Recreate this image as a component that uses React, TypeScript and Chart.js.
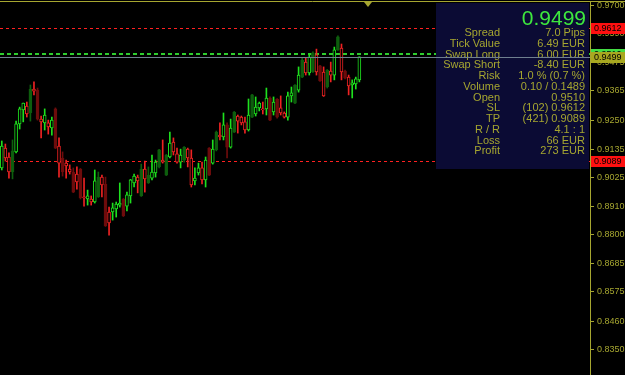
import React, { useEffect, useRef } from "react";
import { Chart, registerables } from "chart.js";

Chart.register(...registerables);

// ---------- data ----------
const SLOT_COUNT = 165; // visible bar slots across the chart width

const opens = [
  0.9062, 0.9140, 0.9105, 0.9046, 0.9125, 0.9235, 0.9290, 0.9305, 0.9278, 0.9372,
  0.9368, 0.9254, 0.9239, 0.9239, 0.9219, 0.9294, 0.9148, 0.9101, 0.9081, 0.9058,
  0.9046, 0.9038, 0.9058, 0.8948, 0.8940, 0.8940, 0.8928, 0.8948, 0.9026, 0.8999,
  0.8889, 0.8889, 0.8901, 0.8916, 0.8940, 0.8912, 0.8952, 0.9003, 0.9026, 0.8952,
  0.9058, 0.9003, 0.9022, 0.9042, 0.9066, 0.9093, 0.9034, 0.9105, 0.9164, 0.9117,
  0.9085, 0.9093, 0.9136, 0.9101, 0.9011, 0.9042, 0.9062, 0.9015, 0.9140, 0.9081,
  0.9133, 0.9191, 0.9184, 0.9231, 0.9144, 0.9203, 0.9266, 0.9262, 0.9243, 0.9211,
  0.9262, 0.9274, 0.9298, 0.9294, 0.9294, 0.9337, 0.9282, 0.9333, 0.9298, 0.9278,
  0.9262, 0.9345, 0.9317, 0.9368, 0.9419, 0.9478, 0.9435, 0.9439, 0.9506, 0.9463,
  0.9439, 0.9380, 0.9443, 0.9427, 0.9526, 0.9533, 0.9443, 0.9419, 0.9388, 0.9392,
  0.9408,
];
const highs = [
  0.9168, 0.9156, 0.9121, 0.9172, 0.9246, 0.9301, 0.9317, 0.9321, 0.9388, 0.9400,
  0.9376, 0.9266, 0.9294, 0.9250, 0.9262, 0.9298, 0.9180, 0.9125, 0.9093, 0.9074,
  0.9062, 0.9066, 0.9060, 0.9022, 0.8975, 0.8952, 0.9054, 0.9046, 0.9034, 0.9026,
  0.8908, 0.8924, 0.8928, 0.9003, 0.8942, 0.8967, 0.9017, 0.9038, 0.9034, 0.9077,
  0.9089, 0.9066, 0.9113, 0.9093, 0.9135, 0.9172, 0.9115, 0.9203, 0.9180, 0.9140,
  0.9136, 0.9146, 0.9140, 0.9133, 0.9062, 0.9081, 0.9085, 0.9105, 0.9142, 0.9172,
  0.9207, 0.9239, 0.9278, 0.9239, 0.9254, 0.9284, 0.9270, 0.9266, 0.9262, 0.9333,
  0.9351, 0.9341, 0.9321, 0.9321, 0.9376, 0.9341, 0.9341, 0.9335, 0.9345, 0.9282,
  0.9360, 0.9380, 0.9390, 0.9459, 0.9494, 0.9494, 0.9510, 0.9518, 0.9529, 0.9465,
  0.9459, 0.9449, 0.9478, 0.9537, 0.9581, 0.9549, 0.9447, 0.9427, 0.9408, 0.9419,
  0.9499,
];
const lows = [
  0.9054, 0.9089, 0.9022, 0.9019, 0.9121, 0.9215, 0.9243, 0.9262, 0.9246, 0.9349,
  0.9250, 0.9180, 0.9211, 0.9195, 0.9191, 0.9138, 0.9026, 0.9030, 0.9022, 0.9038,
  0.8965, 0.8979, 0.8940, 0.8912, 0.8916, 0.8916, 0.8924, 0.8946, 0.8948, 0.8832,
  0.8798, 0.8857, 0.8869, 0.8908, 0.8871, 0.8893, 0.8924, 0.8987, 0.8964, 0.8950,
  0.8967, 0.9001, 0.9015, 0.9026, 0.9062, 0.9081, 0.9032, 0.9101, 0.9113, 0.9081,
  0.9062, 0.9085, 0.9066, 0.8987, 0.8995, 0.9034, 0.8999, 0.8987, 0.9032, 0.9077,
  0.9129, 0.9172, 0.9172, 0.9101, 0.9140, 0.9201, 0.9199, 0.9231, 0.9199, 0.9207,
  0.9260, 0.9266, 0.9286, 0.9274, 0.9270, 0.9248, 0.9270, 0.9258, 0.9270, 0.9258,
  0.9250, 0.9321, 0.9315, 0.9360, 0.9417, 0.9427, 0.9427, 0.9437, 0.9427, 0.9402,
  0.9343, 0.9376, 0.9400, 0.9408, 0.9524, 0.9408, 0.9412, 0.9349, 0.9337, 0.9372,
  0.9400,
];
const closes = [
  0.9148, 0.9101, 0.9046, 0.9129, 0.9235, 0.9294, 0.9317, 0.9274, 0.9372, 0.9364,
  0.9254, 0.9243, 0.9270, 0.9223, 0.9250, 0.9140, 0.9081, 0.9046, 0.9070, 0.9046,
  0.8967, 0.9007, 0.8944, 0.8944, 0.8952, 0.8928, 0.9011, 0.9026, 0.8995, 0.8834,
  0.8846, 0.8905, 0.8920, 0.8924, 0.8873, 0.8956, 0.9015, 0.9030, 0.9011, 0.9058,
  0.9019, 0.9034, 0.9046, 0.9085, 0.9133, 0.9085, 0.9113, 0.9160, 0.9125, 0.9085,
  0.9113, 0.9144, 0.9101, 0.8995, 0.9022, 0.9062, 0.9015, 0.9093, 0.9034, 0.9136,
  0.9203, 0.9184, 0.9231, 0.9144, 0.9219, 0.9282, 0.9246, 0.9239, 0.9211, 0.9270,
  0.9349, 0.9301, 0.9317, 0.9290, 0.9337, 0.9250, 0.9321, 0.9262, 0.9278, 0.9262,
  0.9345, 0.9357, 0.9388, 0.9427, 0.9486, 0.9435, 0.9498, 0.9514, 0.9439, 0.9404,
  0.9345, 0.9447, 0.9427, 0.9526, 0.9577, 0.9439, 0.9415, 0.9384, 0.9396, 0.9412,
  0.9499,
];
// candles drawn in the muted (filled, dark) style
const mutedCandles = [3, 8, 10, 15, 17, 20, 22, 27, 29, 34, 39, 41, 44, 46, 51, 58, 60, 63, 65, 70, 75, 77, 82, 84, 87, 89, 91, 94, 96];

const priceTicks = [0.97, 0.959, 0.9475, 0.9365, 0.925, 0.9135, 0.9025, 0.891, 0.88, 0.8685, 0.8575, 0.846, 0.835];
const Y_MIN = 0.82483;
const Y_MAX = 0.97141;

const bidPrice = 0.9499;
const openPrice = 0.951;
const slPrice = 0.9612;
const tpPrice = 0.9089;

const panelLabels = ["Spread", "Tick Value", "Swap Long", "Swap Short", "Risk", "Volume", "Open", "SL", "TP", "R / R", "Loss", "Profit"];
const panelValues = ["7.0 Pips", "6.49 EUR", "6.00 EUR", "-8.40 EUR", "1.0 % (0.7 %)", "0.10 / 0.1489", "0.9510", "(102) 0.9612", "(421) 0.9089", "4.1 : 1", "66 EUR", "273 EUR"];

// ---------- style ----------
const OLIVE = "#a6a630";
const BRIGHT_GREEN = "#1ee01e";
const BRIGHT_RED = "#ee2222";
const DARK_GREEN = "#0e5e0e";
const DARK_RED = "#6e0c0c";
const PANEL_BG = "#0b0b34";
const AXIS_FONT = '9px "Liberation Sans", sans-serif';

const isBull = (i: number) => closes[i] >= opens[i];
const isMuted = (i: number) => mutedCandles.includes(i);
const candleColor = (i: number) =>
  isMuted(i) ? (isBull(i) ? DARK_GREEN : DARK_RED) : isBull(i) ? BRIGHT_GREEN : BRIGHT_RED;

const overlayPlugin = {
  id: "mtOverlay",
  beforeDatasetsDraw(chart: any) {
    const { ctx, chartArea, scales } = chart;
    const y = scales.y;
    const hLine = (price: number, color: string, dash: number[], width: number) => {
      const py = Math.round(y.getPixelForValue(price)) + (width % 2 ? 0.5 : 0);
      ctx.save();
      ctx.strokeStyle = color;
      ctx.lineWidth = width;
      ctx.setLineDash(dash);
      ctx.beginPath();
      ctx.moveTo(chartArea.left, py);
      ctx.lineTo(chartArea.right, py);
      ctx.stroke();
      ctx.restore();
    };
    hLine(slPrice, "#ff2020", [3, 3], 1);
    hLine(tpPrice, "#ff2020", [3, 3], 1);
    hLine(openPrice, "#2ecc2e", [4, 3], 2);
  },
  afterDraw(chart: any) {
    const { ctx, chartArea, scales } = chart;
    const y = scales.y;
    const right = chartArea.right;
    ctx.save();

    // info panel
    const px = 436;
    const py = 3;
    ctx.fillStyle = PANEL_BG;
    ctx.fillRect(px, py, right - px - 1, 166);

    ctx.fillStyle = "#3ee83e";
    ctx.font = '21px "Liberation Sans", sans-serif';
    ctx.textAlign = "right";
    ctx.textBaseline = "alphabetic";
    ctx.fillText(bidPrice.toFixed(4), 586, 24.5);

    ctx.font = '11px "Liberation Sans", sans-serif';
    ctx.fillStyle = OLIVE;
    ctx.textBaseline = "middle";
    panelLabels.forEach((lab, k) => {
      const ry = 33 + 10.75 * k;
      ctx.textAlign = "right";
      ctx.fillText(lab, 500, ry);
      ctx.fillText(panelValues[k], 585, ry);
    });

    // bid line (on top of panel)
    const by = Math.round(y.getPixelForValue(bidPrice)) + 0.5;
    ctx.strokeStyle = "#6f7f8f";
    ctx.lineWidth = 1;
    ctx.beginPath();
    ctx.moveTo(chartArea.left, by);
    ctx.lineTo(right, by);
    ctx.stroke();

    // top border + shift marker
    ctx.strokeStyle = OLIVE;
    ctx.beginPath();
    ctx.moveTo(0, 1.5);
    ctx.lineTo(625, 1.5);
    ctx.stroke();
    ctx.fillStyle = OLIVE;
    ctx.beginPath();
    ctx.moveTo(364, 2);
    ctx.lineTo(372, 2);
    ctx.lineTo(368, 7);
    ctx.closePath();
    ctx.fill();

    // price boxes on the axis
    const box = (price: number, bg: string, yOffset = 0) => {
      const cy = Math.round(y.getPixelForValue(price)) + yOffset;
      ctx.fillStyle = bg;
      ctx.fillRect(right + 1, cy - 5, 625 - right - 1, 11);
      ctx.fillStyle = "#000000";
      ctx.font = AXIS_FONT;
      ctx.textAlign = "left";
      ctx.textBaseline = "middle";
      ctx.fillText(price.toFixed(4), right + 4, cy + 0.5);
    };
    box(slPrice, "#ff1010");
    box(openPrice, "#44dd44");
    box(bidPrice, "#a8a820");
    box(tpPrice, "#ff1010");
    ctx.restore();
  },
};

export default function App() {
  const canvasRef = useRef<HTMLCanvasElement | null>(null);

  useEffect(() => {
    const canvas = canvasRef.current;
    if (!canvas) return;
    const slots = Array.from({ length: SLOT_COUNT }, (_, i) => String(i));
    const colors = opens.map((_, i) => candleColor(i));
    const chart = new Chart(canvas, {
      type: "bar",
      data: {
        labels: slots,
        datasets: [
          {
            label: "Body",
            data: opens.map((o, i) => [Math.min(o, closes[i]), Math.max(o, closes[i])]) as any,
            backgroundColor: opens.map((_, i) => (isMuted(i) ? candleColor(i) : "#000000")),
            borderColor: colors,
            borderWidth: 1,
            borderSkipped: false,
            barThickness: 3,
            minBarLength: 1,
            grouped: false,
            order: 1,
          } as any,
          {
            label: "Wick",
            data: lows.map((l, i) => [l, highs[i]]) as any,
            backgroundColor: colors,
            borderWidth: 0,
            barThickness: 1,
            grouped: false,
            order: 2,
          } as any,
        ],
      },
      options: {
        animation: false,
        responsive: true,
        maintainAspectRatio: false,
        events: [],
        layout: { padding: { top: 2, left: 0, right: 0, bottom: 0 } },
        plugins: { legend: { display: false }, tooltip: { enabled: false } },
        scales: {
          x: { display: false, offset: true },
          y: {
            position: "right",
            min: Y_MIN,
            max: Y_MAX,
            afterBuildTicks: (scale: any) => {
              scale.ticks = priceTicks.map((v) => ({ value: v }));
            },
            afterFit: (scale: any) => {
              scale.width = 35;
              scale.paddingTop = 0;
              scale.paddingBottom = 0;
            },
            border: { display: true, color: OLIVE, width: 1 },
            grid: { display: true, drawOnChartArea: false, drawTicks: true, tickLength: 4, color: OLIVE },
            ticks: {
              autoSkip: false,
              padding: 3,
              color: OLIVE,
              font: { family: '"Liberation Sans", sans-serif', size: 9 },
              callback: (v: any) => Number(v).toFixed(4),
            },
          },
        },
      } as any,
      plugins: [overlayPlugin],
    });
    return () => chart.destroy();
  }, []);

  return (
    <div style={{ position: "fixed", left: 0, top: 0, width: 625, height: 375, background: "#000000" }}>
      <canvas ref={canvasRef} />
    </div>
  );
}
